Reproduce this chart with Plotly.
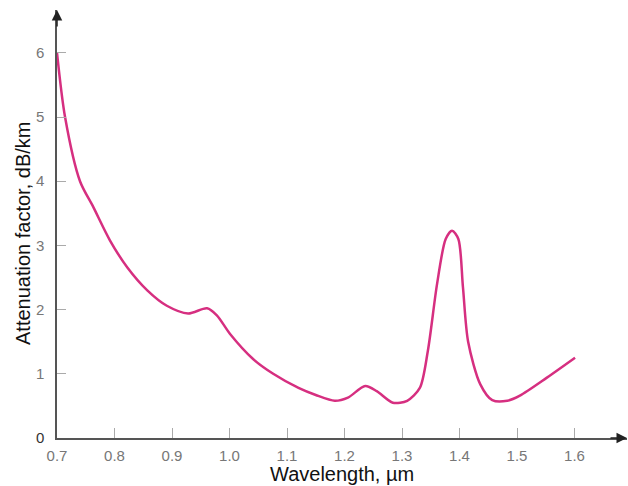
import plotly.graph_objects as go

wavelength = [0.700, 0.714, 0.740, 0.763, 0.792, 0.822, 0.857, 0.891, 0.928, 0.961,
              0.978, 1.001, 1.041, 1.076, 1.120, 1.150, 1.183, 1.206, 1.236, 1.256,
              1.284, 1.309, 1.331, 1.345, 1.361, 1.376, 1.387, 1.398, 1.406, 1.415,
              1.436, 1.457, 1.483, 1.505, 1.552, 1.601]
attenuation = [6.00, 5.00, 4.00, 3.60, 3.08, 2.66, 2.30, 2.06, 1.94, 2.02,
               1.91, 1.62, 1.23, 1.00, 0.78, 0.67, 0.58, 0.63, 0.81, 0.73,
               0.55, 0.58, 0.78, 1.36, 2.40, 3.10, 3.23, 3.10, 2.35, 1.50,
               0.84, 0.59, 0.58, 0.66, 0.94, 1.25]

x_ticks = [0.7, 0.8, 0.9, 1.0, 1.1, 1.2, 1.3, 1.4, 1.5, 1.6]
x_ticktext = ["0.7", "0.8", "0.9", "1.0", "1.1", "1.2", "1.3", "1.4", "1.5", "1.6"]
y_ticks = [0, 1, 2, 3, 4, 5, 6]
y_ticktext = ["<span style='color:#333'>0</span>", "1", "2", "3", "4", "5", "6"]

FONT = "Liberation Sans, Arial, sans-serif"

fig = go.Figure()
fig.add_trace(go.Scatter(
    x=wavelength, y=attenuation, mode="lines",
    line=dict(color="#d62f80", width=2.5, shape="spline", smoothing=0.8),
    hoverinfo="skip", showlegend=False,
))

fig.update_layout(
    width=628, height=486,
    margin=dict(l=57, r=1, t=10, b=48),
    paper_bgcolor="white", plot_bgcolor="white",
    font=dict(family=FONT),
    xaxis=dict(
        range=[0.7, 0.7 + 570 / 575], showgrid=False, zeroline=False,
        showline=True, linecolor="#555", linewidth=1.5,
        tickvals=x_ticks, ticktext=x_ticktext,
        ticks="inside", ticklen=10, tickcolor="#aaa", tickwidth=1,
        tickfont=dict(size=15, color="#777"), ticklabelstandoff=3,
    ),
    yaxis=dict(
        range=[0, 428 / 64.2], showgrid=False, zeroline=False,
        showline=True, linecolor="#555", linewidth=1.5,
        tickvals=y_ticks, ticktext=y_ticktext,
        ticks="inside", ticklen=9, tickcolor="#aaa", tickwidth=1,
        tickfont=dict(size=15, color="#777"), ticklabelstandoff=8,
    ),
    annotations=[
        dict(xref="paper", yref="paper", x=1.0, y=0.0, ax=-18, ay=0,
             showarrow=True, arrowhead=2, arrowsize=1.4, arrowwidth=1.5,
             arrowcolor="#222", text=""),
        dict(xref="paper", yref="paper", x=0.0, y=1.0, ax=0, ay=18,
             showarrow=True, arrowhead=2, arrowsize=1.4, arrowwidth=1.5,
             arrowcolor="#222", text=""),
        dict(xref="paper", yref="paper", x=0.5, y=0, yshift=-36,
             xanchor="center", yanchor="middle", showarrow=False,
             text="Wavelength, µm", font=dict(size=20, color="#111", family=FONT)),
        dict(xref="paper", yref="paper", x=0, y=0.5, xshift=-34, yshift=-10,
             xanchor="center", yanchor="middle", showarrow=False, textangle=-90,
             text="Attenuation factor, dB/km", font=dict(size=20, color="#111", family=FONT)),
    ],
)

fig.write_html("out.html", post_script="document.body.style.margin='0';",
               config={"displayModeBar": False})
